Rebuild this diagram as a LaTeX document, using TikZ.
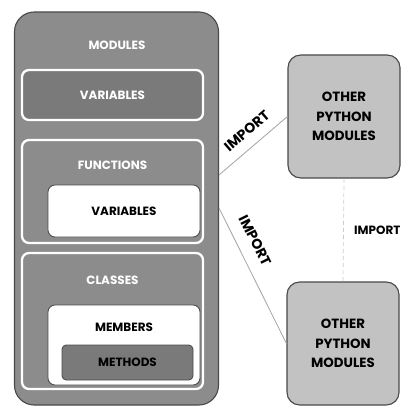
\documentclass[tikz,border=0pt]{standalone}
\usepackage{fontspec}
\setmainfont{Poppins}
\usetikzlibrary{arrows.meta,positioning}

\definecolor{boxgray}{HTML}{8C8C8C}
\definecolor{darkgray}{HTML}{7A7A7A}
\definecolor{lightgray}{HTML}{C2C2C2}
\definecolor{edgegray}{HTML}{4A4A4A}

\begin{document}
\begin{tikzpicture}[x=0.025cm,y=-0.025cm,
 label/.style={font=\fontsize{8.5}{10}\selectfont\bfseries,text=white},
 darklabel/.style={font=\fontsize{8.5}{10}\selectfont\bfseries,text=black},
 linklabel/.style={font=\fontsize{10}{12}\selectfont\bfseries,text=black,inner sep=1pt},
 outerbox/.style={draw=edgegray,fill=boxgray,rounded corners=14pt,line width=0.8pt},
 inner/.style={draw=white,line width=1.6pt,rounded corners=5pt,inner sep=0pt},
 graybox/.style={inner,fill=darkgray},
 groupbox/.style={inner,fill=boxgray},
 whitebox/.style={inner,fill=white,draw=edgegray,line width=0.6pt},
 methodbox/.style={inner,fill=darkgray,draw=edgegray,line width=0.6pt,rounded corners=3pt},
 otherbox/.style={draw=edgegray,fill=lightgray,rounded corners=9pt,line width=0.8pt,
   minimum width=112*0.025cm,minimum height=123*0.025cm,align=center,
   font=\fontsize{9.5}{14}\selectfont\bfseries},
 link/.style={gray!70,line width=0.6pt},
 dep/.style={gray!40,line width=0.5pt,densely dashed}]
\useasboundingbox (0,0) rectangle (402,412);
\node[outerbox,minimum width=204*0.025cm,minimum height=393*0.025cm] (mod) at (116.5,208.5) {};
\node[label] (modt) at (117,45) {MODULES};
\node[graybox,minimum width=181*0.025cm,minimum height=50*0.025cm] (var) at (112.5,95) {};
\node[label] at (var) {VARIABLES};
\node[groupbox,minimum width=181*0.025cm,minimum height=103*0.025cm] (fun) at (112.5,191.5) {};
\node[label] at (112.5,165) {FUNCTIONS};
\node[whitebox,minimum width=152*0.025cm,minimum height=52*0.025cm] (fvar) at (124,211) {};
\node[darklabel] at (fvar) {VARIABLES};
\node[groupbox,minimum width=181*0.025cm,minimum height=136*0.025cm] (cls) at (112.5,321) {};
\node[label] at (112.5,280) {CLASSES};
\node[whitebox,minimum width=152*0.025cm,minimum height=80*0.025cm] (mem) at (124,345) {};
\node[darklabel] at (124,327) {MEMBERS};
\node[methodbox,minimum width=131*0.025cm,minimum height=35*0.025cm] (meth) at (127.5,362.5) {};
\node[darklabel] at (meth) {METHODS};
\node[otherbox] (pyA) at (344,116.5) {OTHER\\PYTHON\\MODULES};
\node[otherbox] (pyB) at (343,343.5) {OTHER\\PYTHON\\MODULES};
\coordinate (outA) at (219,175);
\coordinate (outB) at (219,208);
\draw[link] (outA) -- node[linklabel,sloped,above=6pt,pos=0.55] {IMPORT} (pyA.west);
\draw[link] (outB) -- node[linklabel,sloped,above=8pt,pos=0.3] {IMPORT} (pyB.west);
\draw[dep] (pyA.south) -- node[darklabel,right=4pt] {IMPORT} (pyB.north);
\end{tikzpicture}
\end{document}
